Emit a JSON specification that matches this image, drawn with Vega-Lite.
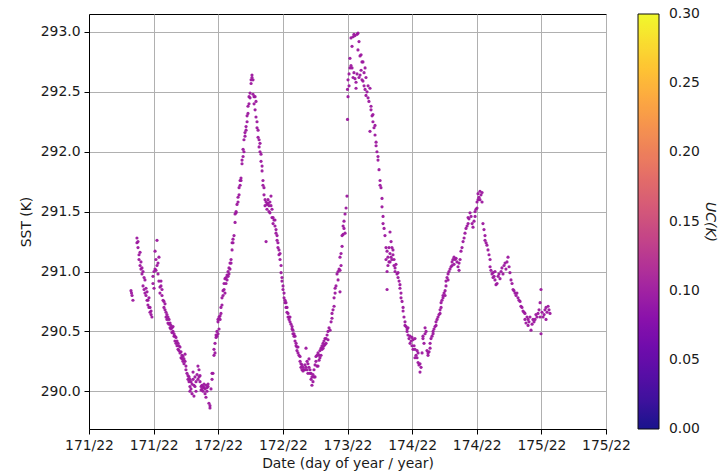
{
  "$schema": "https://vega.github.io/schema/vega-lite/v6.json",
  "width": 517,
  "height": 415,
  "autosize": {"type": "none"},
  "padding": {"left": 89, "top": 14, "right": 117, "bottom": 43},
  "background": "white",
  "config": {
    "font": "DejaVu Sans",
    "view": {"stroke": "black", "strokeWidth": 1},
    "axis": {
      "labelFont": "DejaVu Sans", "labelFontSize": 13.9, "labelColor": "#1a1a1a",
      "titleFont": "DejaVu Sans", "titleFontSize": 13.9, "titleFontWeight": "normal", "titleColor": "#1a1a1a",
      "domainColor": "black", "domainWidth": 1, "tickColor": "black", "tickSize": 5, "tickWidth": 1,
      "labelPadding": 4, "gridColor": "#b0b0b0", "gridWidth": 1, "gridOpacity": 1
    },
    "legend": {"padding": 0}
  },
  "data": {"values": [
    {"day":0.325,"sst":290.84,"uc":0.1},{"day":0.333,"sst":290.80,"uc":0.1},{"day":0.340,"sst":290.76,"uc":0.1},{"day":0.329,"sst":290.82,"uc":0.1},
    {"day":0.371,"sst":291.28,"uc":0.1},{"day":0.371,"sst":291.24,"uc":0.1},{"day":0.379,"sst":291.25,"uc":0.1},{"day":0.379,"sst":291.20,"uc":0.1},
    {"day":0.387,"sst":291.14,"uc":0.1},{"day":0.387,"sst":291.10,"uc":0.1},{"day":0.395,"sst":291.16,"uc":0.1},{"day":0.395,"sst":291.05,"uc":0.1},
    {"day":0.402,"sst":291.08,"uc":0.1},{"day":0.402,"sst":291.02,"uc":0.1},{"day":0.410,"sst":291.03,"uc":0.1},{"day":0.410,"sst":290.98,"uc":0.1},
    {"day":0.418,"sst":291.00,"uc":0.1},{"day":0.418,"sst":290.88,"uc":0.1},{"day":0.426,"sst":290.95,"uc":0.1},{"day":0.426,"sst":290.85,"uc":0.1},
    {"day":0.433,"sst":290.93,"uc":0.1},{"day":0.433,"sst":290.82,"uc":0.1},{"day":0.441,"sst":290.86,"uc":0.1},{"day":0.441,"sst":290.80,"uc":0.1},
    {"day":0.449,"sst":290.83,"uc":0.1},{"day":0.449,"sst":290.76,"uc":0.1},{"day":0.456,"sst":290.76,"uc":0.1},{"day":0.456,"sst":290.72,"uc":0.1},
    {"day":0.464,"sst":290.78,"uc":0.1},{"day":0.464,"sst":290.70,"uc":0.1},{"day":0.472,"sst":290.70,"uc":0.1},{"day":0.472,"sst":290.66,"uc":0.1},
    {"day":0.480,"sst":290.67,"uc":0.1},{"day":0.480,"sst":290.64,"uc":0.1},{"day":0.487,"sst":290.62,"uc":0.1},
    {"day":0.495,"sst":290.90,"uc":0.1},{"day":0.495,"sst":290.96,"uc":0.1},{"day":0.503,"sst":291.00,"uc":0.1},{"day":0.503,"sst":290.86,"uc":0.1},
    {"day":0.511,"sst":291.17,"uc":0.1},{"day":0.511,"sst":291.02,"uc":0.1},{"day":0.518,"sst":291.10,"uc":0.1},{"day":0.518,"sst":291.01,"uc":0.1},
    {"day":0.526,"sst":291.26,"uc":0.1},{"day":0.526,"sst":291.05,"uc":0.1},{"day":0.534,"sst":291.07,"uc":0.1},{"day":0.534,"sst":290.98,"uc":0.1},
    {"day":0.541,"sst":291.12,"uc":0.1},{"day":0.541,"sst":290.92,"uc":0.1},{"day":0.549,"sst":290.87,"uc":0.1},{"day":0.549,"sst":290.82,"uc":0.1},
    {"day":0.557,"sst":290.92,"uc":0.1},{"day":0.557,"sst":290.88,"uc":0.1},{"day":0.565,"sst":290.80,"uc":0.1},{"day":0.565,"sst":290.85,"uc":0.1},
    {"day":0.573,"sst":290.76,"uc":0.1},{"day":0.580,"sst":290.75,"uc":0.1},{"day":0.580,"sst":290.70,"uc":0.1},{"day":0.588,"sst":290.73,"uc":0.1},
    {"day":0.588,"sst":290.68,"uc":0.1},{"day":0.596,"sst":290.66,"uc":0.1},{"day":0.596,"sst":290.62,"uc":0.1},{"day":0.603,"sst":290.64,"uc":0.1},
    {"day":0.603,"sst":290.60,"uc":0.1},{"day":0.611,"sst":290.62,"uc":0.1},{"day":0.611,"sst":290.57,"uc":0.1},{"day":0.619,"sst":290.60,"uc":0.1},
    {"day":0.619,"sst":290.56,"uc":0.1},{"day":0.627,"sst":290.57,"uc":0.1},{"day":0.627,"sst":290.53,"uc":0.1},{"day":0.634,"sst":290.55,"uc":0.1},
    {"day":0.634,"sst":290.52,"uc":0.1},{"day":0.642,"sst":290.53,"uc":0.1},{"day":0.642,"sst":290.49,"uc":0.1},{"day":0.650,"sst":290.54,"uc":0.1},
    {"day":0.650,"sst":290.50,"uc":0.1},{"day":0.658,"sst":290.48,"uc":0.1},{"day":0.658,"sst":290.46,"uc":0.1},{"day":0.665,"sst":290.46,"uc":0.1},
    {"day":0.665,"sst":290.42,"uc":0.1},{"day":0.673,"sst":290.45,"uc":0.1},{"day":0.673,"sst":290.40,"uc":0.1},{"day":0.681,"sst":290.42,"uc":0.1},
    {"day":0.681,"sst":290.38,"uc":0.1},{"day":0.689,"sst":290.40,"uc":0.1},{"day":0.689,"sst":290.35,"uc":0.1},{"day":0.696,"sst":290.38,"uc":0.1},
    {"day":0.696,"sst":290.34,"uc":0.1},{"day":0.704,"sst":290.37,"uc":0.1},{"day":0.704,"sst":290.32,"uc":0.1},{"day":0.712,"sst":290.33,"uc":0.1},
    {"day":0.712,"sst":290.28,"uc":0.1},{"day":0.720,"sst":290.30,"uc":0.1},{"day":0.720,"sst":290.27,"uc":0.1},{"day":0.727,"sst":290.29,"uc":0.1},
    {"day":0.727,"sst":290.25,"uc":0.1},{"day":0.735,"sst":290.27,"uc":0.1},{"day":0.735,"sst":290.23,"uc":0.1},{"day":0.743,"sst":290.31,"uc":0.1},
    {"day":0.743,"sst":290.25,"uc":0.1},{"day":0.750,"sst":290.21,"uc":0.1},{"day":0.750,"sst":290.18,"uc":0.1},{"day":0.758,"sst":290.15,"uc":0.1},
    {"day":0.766,"sst":290.13,"uc":0.1},{"day":0.766,"sst":290.10,"uc":0.1},{"day":0.774,"sst":290.08,"uc":0.1},{"day":0.774,"sst":290.12,"uc":0.1},
    {"day":0.781,"sst":290.04,"uc":0.1},{"day":0.781,"sst":290.00,"uc":0.1},{"day":0.781,"sst":290.10,"uc":0.1},{"day":0.789,"sst":290.02,"uc":0.1},
    {"day":0.789,"sst":290.08,"uc":0.1},{"day":0.797,"sst":289.98,"uc":0.1},{"day":0.797,"sst":290.06,"uc":0.1},{"day":0.805,"sst":290.10,"uc":0.1},
    {"day":0.805,"sst":290.16,"uc":0.1},{"day":0.812,"sst":290.05,"uc":0.1},{"day":0.812,"sst":289.96,"uc":0.1},{"day":0.820,"sst":290.12,"uc":0.1},
    {"day":0.820,"sst":290.04,"uc":0.1},{"day":0.828,"sst":290.00,"uc":0.1},{"day":0.828,"sst":290.08,"uc":0.1},{"day":0.836,"sst":290.14,"uc":0.1},
    {"day":0.843,"sst":290.21,"uc":0.1},{"day":0.843,"sst":290.10,"uc":0.1},{"day":0.851,"sst":290.18,"uc":0.1},{"day":0.851,"sst":290.12,"uc":0.1},
    {"day":0.859,"sst":290.08,"uc":0.1},{"day":0.859,"sst":290.13,"uc":0.1},{"day":0.867,"sst":290.04,"uc":0.1},{"day":0.867,"sst":290.01,"uc":0.1},
    {"day":0.874,"sst":290.05,"uc":0.1},{"day":0.874,"sst":290.02,"uc":0.1},{"day":0.882,"sst":290.04,"uc":0.1},{"day":0.882,"sst":290.00,"uc":0.1},
    {"day":0.890,"sst":290.03,"uc":0.1},{"day":0.890,"sst":290.06,"uc":0.1},{"day":0.898,"sst":289.98,"uc":0.1},{"day":0.898,"sst":290.02,"uc":0.1},
    {"day":0.905,"sst":289.95,"uc":0.1},{"day":0.905,"sst":290.05,"uc":0.1},{"day":0.913,"sst":290.03,"uc":0.1},{"day":0.913,"sst":290.00,"uc":0.1},
    {"day":0.921,"sst":290.04,"uc":0.1},{"day":0.921,"sst":290.06,"uc":0.1},{"day":0.928,"sst":289.90,"uc":0.1},{"day":0.936,"sst":289.86,"uc":0.1},
    {"day":0.936,"sst":289.88,"uc":0.1},{"day":0.944,"sst":290.02,"uc":0.1},{"day":0.952,"sst":290.10,"uc":0.1},{"day":0.952,"sst":290.15,"uc":0.1},
    {"day":0.959,"sst":290.15,"uc":0.1},{"day":0.967,"sst":290.30,"uc":0.1},{"day":0.967,"sst":290.35,"uc":0.1},{"day":0.975,"sst":290.32,"uc":0.1},
    {"day":0.975,"sst":290.40,"uc":0.1},{"day":0.983,"sst":290.45,"uc":0.1},{"day":0.983,"sst":290.47,"uc":0.1},{"day":0.990,"sst":290.46,"uc":0.1},
    {"day":0.990,"sst":290.50,"uc":0.1},{"day":0.998,"sst":290.48,"uc":0.1},{"day":0.998,"sst":290.58,"uc":0.1},{"day":0.998,"sst":290.60,"uc":0.1},
    {"day":1.006,"sst":290.52,"uc":0.1},{"day":1.006,"sst":290.62,"uc":0.1},{"day":1.014,"sst":290.60,"uc":0.1},{"day":1.014,"sst":290.63,"uc":0.1},
    {"day":1.021,"sst":290.65,"uc":0.1},{"day":1.021,"sst":290.70,"uc":0.1},{"day":1.029,"sst":290.72,"uc":0.1},{"day":1.029,"sst":290.78,"uc":0.1},
    {"day":1.037,"sst":290.80,"uc":0.1},{"day":1.037,"sst":290.84,"uc":0.1},{"day":1.045,"sst":290.85,"uc":0.1},{"day":1.045,"sst":290.90,"uc":0.1},
    {"day":1.052,"sst":290.82,"uc":0.1},{"day":1.052,"sst":290.94,"uc":0.1},{"day":1.060,"sst":290.90,"uc":0.1},{"day":1.060,"sst":290.95,"uc":0.1},
    {"day":1.068,"sst":290.93,"uc":0.1},{"day":1.068,"sst":290.97,"uc":0.1},{"day":1.076,"sst":290.96,"uc":0.1},{"day":1.076,"sst":291.00,"uc":0.1},
    {"day":1.083,"sst":291.03,"uc":0.1},{"day":1.083,"sst":290.98,"uc":0.1},{"day":1.091,"sst":291.02,"uc":0.1},{"day":1.091,"sst":291.07,"uc":0.1},
    {"day":1.099,"sst":291.07,"uc":0.1},{"day":1.099,"sst":291.10,"uc":0.1},{"day":1.107,"sst":291.18,"uc":0.1},{"day":1.107,"sst":291.24,"uc":0.1},
    {"day":1.114,"sst":291.24,"uc":0.1},{"day":1.114,"sst":291.27,"uc":0.1},{"day":1.122,"sst":291.30,"uc":0.1},{"day":1.130,"sst":291.41,"uc":0.1},
    {"day":1.130,"sst":291.48,"uc":0.1},{"day":1.138,"sst":291.49,"uc":0.1},{"day":1.138,"sst":291.50,"uc":0.1},{"day":1.145,"sst":291.56,"uc":0.1},
    {"day":1.153,"sst":291.62,"uc":0.1},{"day":1.153,"sst":291.58,"uc":0.1},{"day":1.161,"sst":291.64,"uc":0.1},{"day":1.161,"sst":291.70,"uc":0.1},
    {"day":1.169,"sst":291.72,"uc":0.1},{"day":1.169,"sst":291.76,"uc":0.1},{"day":1.176,"sst":291.76,"uc":0.1},{"day":1.176,"sst":291.78,"uc":0.1},
    {"day":1.184,"sst":291.93,"uc":0.1},{"day":1.184,"sst":291.90,"uc":0.1},{"day":1.192,"sst":291.96,"uc":0.1},{"day":1.192,"sst":292.02,"uc":0.1},
    {"day":1.199,"sst":292.10,"uc":0.1},{"day":1.199,"sst":292.00,"uc":0.1},{"day":1.207,"sst":292.13,"uc":0.1},{"day":1.207,"sst":292.16,"uc":0.1},
    {"day":1.215,"sst":292.21,"uc":0.1},{"day":1.215,"sst":292.18,"uc":0.1},{"day":1.223,"sst":292.30,"uc":0.1},{"day":1.223,"sst":292.25,"uc":0.1},
    {"day":1.230,"sst":292.38,"uc":0.1},{"day":1.230,"sst":292.32,"uc":0.1},{"day":1.238,"sst":292.40,"uc":0.1},{"day":1.238,"sst":292.46,"uc":0.1},
    {"day":1.246,"sst":292.49,"uc":0.1},{"day":1.246,"sst":292.45,"uc":0.1},{"day":1.254,"sst":292.57,"uc":0.1},{"day":1.254,"sst":292.60,"uc":0.1},
    {"day":1.261,"sst":292.64,"uc":0.1},{"day":1.261,"sst":292.62,"uc":0.1},{"day":1.269,"sst":292.60,"uc":0.1},{"day":1.269,"sst":292.48,"uc":0.1},
    {"day":1.277,"sst":292.46,"uc":0.1},{"day":1.277,"sst":292.40,"uc":0.1},{"day":1.285,"sst":292.46,"uc":0.1},{"day":1.285,"sst":292.35,"uc":0.1},
    {"day":1.292,"sst":292.29,"uc":0.1},{"day":1.292,"sst":292.42,"uc":0.1},{"day":1.300,"sst":292.20,"uc":0.1},{"day":1.300,"sst":292.25,"uc":0.1},
    {"day":1.308,"sst":292.18,"uc":0.1},{"day":1.308,"sst":292.12,"uc":0.1},{"day":1.316,"sst":292.10,"uc":0.1},{"day":1.316,"sst":292.04,"uc":0.1},
    {"day":1.323,"sst":292.07,"uc":0.1},{"day":1.323,"sst":292.00,"uc":0.1},{"day":1.331,"sst":291.98,"uc":0.1},{"day":1.331,"sst":291.92,"uc":0.1},
    {"day":1.339,"sst":291.88,"uc":0.1},{"day":1.339,"sst":291.84,"uc":0.1},{"day":1.346,"sst":291.76,"uc":0.1},{"day":1.346,"sst":291.72,"uc":0.1},
    {"day":1.354,"sst":291.70,"uc":0.1},{"day":1.354,"sst":291.64,"uc":0.1},{"day":1.362,"sst":291.60,"uc":0.1},{"day":1.362,"sst":291.55,"uc":0.1},
    {"day":1.370,"sst":291.58,"uc":0.1},{"day":1.370,"sst":291.25,"uc":0.1},{"day":1.377,"sst":291.52,"uc":0.1},{"day":1.377,"sst":291.56,"uc":0.1},
    {"day":1.385,"sst":291.57,"uc":0.1},{"day":1.385,"sst":291.60,"uc":0.1},{"day":1.393,"sst":291.55,"uc":0.1},{"day":1.393,"sst":291.50,"uc":0.1},
    {"day":1.400,"sst":291.49,"uc":0.1},{"day":1.400,"sst":291.58,"uc":0.1},{"day":1.408,"sst":291.63,"uc":0.1},{"day":1.408,"sst":291.55,"uc":0.1},
    {"day":1.416,"sst":291.52,"uc":0.1},{"day":1.416,"sst":291.45,"uc":0.1},{"day":1.424,"sst":291.45,"uc":0.1},{"day":1.424,"sst":291.40,"uc":0.1},
    {"day":1.431,"sst":291.43,"uc":0.1},{"day":1.439,"sst":291.43,"uc":0.1},{"day":1.439,"sst":291.38,"uc":0.1},{"day":1.447,"sst":291.32,"uc":0.1},
    {"day":1.447,"sst":291.35,"uc":0.1},{"day":1.455,"sst":291.30,"uc":0.1},{"day":1.455,"sst":291.26,"uc":0.1},{"day":1.462,"sst":291.24,"uc":0.1},
    {"day":1.462,"sst":291.20,"uc":0.1},{"day":1.470,"sst":291.18,"uc":0.1},{"day":1.470,"sst":291.14,"uc":0.1},{"day":1.478,"sst":291.15,"uc":0.1},
    {"day":1.478,"sst":291.10,"uc":0.1},{"day":1.486,"sst":291.05,"uc":0.1},{"day":1.486,"sst":290.99,"uc":0.1},{"day":1.493,"sst":290.95,"uc":0.1},
    {"day":1.493,"sst":290.92,"uc":0.1},{"day":1.501,"sst":290.85,"uc":0.1},{"day":1.501,"sst":290.88,"uc":0.1},{"day":1.509,"sst":290.82,"uc":0.1},
    {"day":1.509,"sst":290.78,"uc":0.1},{"day":1.517,"sst":290.76,"uc":0.1},{"day":1.517,"sst":290.74,"uc":0.1},{"day":1.524,"sst":290.74,"uc":0.1},
    {"day":1.524,"sst":290.70,"uc":0.1},{"day":1.532,"sst":290.70,"uc":0.1},{"day":1.532,"sst":290.66,"uc":0.1},{"day":1.540,"sst":290.65,"uc":0.1},
    {"day":1.540,"sst":290.62,"uc":0.1},{"day":1.548,"sst":290.62,"uc":0.1},{"day":1.548,"sst":290.60,"uc":0.1},{"day":1.555,"sst":290.62,"uc":0.1},
    {"day":1.555,"sst":290.58,"uc":0.1},{"day":1.563,"sst":290.56,"uc":0.1},{"day":1.571,"sst":290.54,"uc":0.1},{"day":1.571,"sst":290.52,"uc":0.1},
    {"day":1.578,"sst":290.51,"uc":0.1},{"day":1.578,"sst":290.48,"uc":0.1},{"day":1.586,"sst":290.48,"uc":0.1},{"day":1.586,"sst":290.46,"uc":0.1},
    {"day":1.594,"sst":290.46,"uc":0.1},{"day":1.594,"sst":290.42,"uc":0.1},{"day":1.602,"sst":290.40,"uc":0.1},{"day":1.602,"sst":290.38,"uc":0.1},
    {"day":1.609,"sst":290.37,"uc":0.1},{"day":1.609,"sst":290.34,"uc":0.1},{"day":1.617,"sst":290.37,"uc":0.1},{"day":1.617,"sst":290.32,"uc":0.1},
    {"day":1.625,"sst":290.30,"uc":0.1},{"day":1.633,"sst":290.29,"uc":0.1},{"day":1.633,"sst":290.25,"uc":0.1},{"day":1.640,"sst":290.23,"uc":0.1},
    {"day":1.640,"sst":290.20,"uc":0.1},{"day":1.648,"sst":290.22,"uc":0.1},{"day":1.648,"sst":290.18,"uc":0.1},{"day":1.656,"sst":290.20,"uc":0.1},
    {"day":1.656,"sst":290.17,"uc":0.1},{"day":1.663,"sst":290.18,"uc":0.1},{"day":1.671,"sst":290.18,"uc":0.1},{"day":1.671,"sst":290.22,"uc":0.1},
    {"day":1.679,"sst":290.36,"uc":0.1},{"day":1.679,"sst":290.20,"uc":0.1},{"day":1.687,"sst":290.25,"uc":0.1},{"day":1.687,"sst":290.18,"uc":0.1},
    {"day":1.694,"sst":290.23,"uc":0.1},{"day":1.694,"sst":290.15,"uc":0.1},{"day":1.702,"sst":290.27,"uc":0.1},{"day":1.702,"sst":290.20,"uc":0.1},
    {"day":1.710,"sst":290.15,"uc":0.1},{"day":1.710,"sst":290.18,"uc":0.1},{"day":1.718,"sst":290.15,"uc":0.1},{"day":1.718,"sst":290.10,"uc":0.1},
    {"day":1.725,"sst":290.05,"uc":0.1},{"day":1.725,"sst":290.12,"uc":0.1},{"day":1.733,"sst":290.14,"uc":0.1},{"day":1.733,"sst":290.08,"uc":0.1},
    {"day":1.741,"sst":290.12,"uc":0.1},{"day":1.741,"sst":290.18,"uc":0.1},{"day":1.749,"sst":290.12,"uc":0.1},{"day":1.749,"sst":290.22,"uc":0.1},
    {"day":1.756,"sst":290.29,"uc":0.1},{"day":1.756,"sst":290.25,"uc":0.1},{"day":1.764,"sst":290.21,"uc":0.1},{"day":1.764,"sst":290.30,"uc":0.1},
    {"day":1.772,"sst":290.21,"uc":0.1},{"day":1.772,"sst":290.32,"uc":0.1},{"day":1.780,"sst":290.26,"uc":0.1},{"day":1.780,"sst":290.30,"uc":0.1},
    {"day":1.787,"sst":290.34,"uc":0.1},{"day":1.787,"sst":290.28,"uc":0.1},{"day":1.795,"sst":290.30,"uc":0.1},{"day":1.795,"sst":290.36,"uc":0.1},
    {"day":1.803,"sst":290.35,"uc":0.1},{"day":1.803,"sst":290.38,"uc":0.1},{"day":1.811,"sst":290.40,"uc":0.1},{"day":1.811,"sst":290.36,"uc":0.1},
    {"day":1.818,"sst":290.42,"uc":0.1},{"day":1.818,"sst":290.38,"uc":0.1},{"day":1.826,"sst":290.39,"uc":0.1},{"day":1.826,"sst":290.44,"uc":0.1},
    {"day":1.834,"sst":290.44,"uc":0.1},{"day":1.834,"sst":290.40,"uc":0.1},{"day":1.842,"sst":290.47,"uc":0.1},{"day":1.849,"sst":290.43,"uc":0.1},
    {"day":1.849,"sst":290.50,"uc":0.1},{"day":1.857,"sst":290.53,"uc":0.1},{"day":1.865,"sst":290.51,"uc":0.1},{"day":1.873,"sst":290.58,"uc":0.1},
    {"day":1.880,"sst":290.65,"uc":0.1},{"day":1.880,"sst":290.61,"uc":0.1},{"day":1.888,"sst":290.68,"uc":0.1},{"day":1.896,"sst":290.71,"uc":0.1},
    {"day":1.896,"sst":290.78,"uc":0.1},{"day":1.904,"sst":290.82,"uc":0.1},{"day":1.904,"sst":290.86,"uc":0.1},{"day":1.911,"sst":290.88,"uc":0.1},
    {"day":1.919,"sst":290.98,"uc":0.1},{"day":1.927,"sst":290.93,"uc":0.1},{"day":1.927,"sst":291.00,"uc":0.1},{"day":1.935,"sst":291.02,"uc":0.1},
    {"day":1.942,"sst":291.01,"uc":0.1},{"day":1.942,"sst":291.12,"uc":0.1},{"day":1.942,"sst":290.83,"uc":0.1},{"day":1.950,"sst":291.05,"uc":0.1},
    {"day":1.950,"sst":291.15,"uc":0.1},{"day":1.958,"sst":291.21,"uc":0.1},{"day":1.958,"sst":291.30,"uc":0.1},{"day":1.966,"sst":291.31,"uc":0.1},
    {"day":1.966,"sst":291.38,"uc":0.1},{"day":1.973,"sst":291.42,"uc":0.1},{"day":1.973,"sst":291.36,"uc":0.1},{"day":1.981,"sst":291.32,"uc":0.1},
    {"day":1.981,"sst":291.48,"uc":0.1},{"day":1.989,"sst":291.53,"uc":0.1},{"day":1.996,"sst":291.63,"uc":0.1},
    {"day":2.000,"sst":292.27,"uc":0.1},{"day":2.000,"sst":292.52,"uc":0.1},{"day":2.004,"sst":292.46,"uc":0.1},{"day":2.004,"sst":292.60,"uc":0.1},
    {"day":2.012,"sst":292.65,"uc":0.1},{"day":2.012,"sst":292.55,"uc":0.1},{"day":2.019,"sst":292.78,"uc":0.1},{"day":2.019,"sst":292.70,"uc":0.1},
    {"day":2.027,"sst":292.95,"uc":0.1},{"day":2.027,"sst":292.72,"uc":0.1},{"day":2.035,"sst":292.70,"uc":0.1},{"day":2.035,"sst":292.88,"uc":0.1},
    {"day":2.043,"sst":292.96,"uc":0.1},{"day":2.043,"sst":292.62,"uc":0.1},{"day":2.050,"sst":292.98,"uc":0.1},{"day":2.050,"sst":292.66,"uc":0.1},
    {"day":2.058,"sst":292.97,"uc":0.1},{"day":2.058,"sst":292.61,"uc":0.1},{"day":2.066,"sst":292.53,"uc":0.1},{"day":2.066,"sst":292.58,"uc":0.1},
    {"day":2.074,"sst":292.98,"uc":0.1},{"day":2.074,"sst":292.65,"uc":0.1},{"day":2.081,"sst":292.99,"uc":0.1},{"day":2.081,"sst":292.85,"uc":0.1},
    {"day":2.089,"sst":292.92,"uc":0.1},{"day":2.089,"sst":292.62,"uc":0.1},{"day":2.097,"sst":292.64,"uc":0.1},{"day":2.097,"sst":292.80,"uc":0.1},
    {"day":2.105,"sst":292.81,"uc":0.1},{"day":2.105,"sst":292.68,"uc":0.1},{"day":2.112,"sst":292.75,"uc":0.1},{"day":2.112,"sst":292.60,"uc":0.1},
    {"day":2.120,"sst":292.59,"uc":0.1},{"day":2.120,"sst":292.75,"uc":0.1},{"day":2.128,"sst":292.66,"uc":0.1},{"day":2.128,"sst":292.55,"uc":0.1},
    {"day":2.136,"sst":292.70,"uc":0.1},{"day":2.136,"sst":292.52,"uc":0.1},{"day":2.143,"sst":292.62,"uc":0.1},{"day":2.143,"sst":292.47,"uc":0.1},
    {"day":2.151,"sst":292.50,"uc":0.1},{"day":2.159,"sst":292.45,"uc":0.1},{"day":2.159,"sst":292.55,"uc":0.1},{"day":2.166,"sst":292.42,"uc":0.1},
    {"day":2.174,"sst":292.53,"uc":0.1},{"day":2.174,"sst":292.17,"uc":0.1},{"day":2.182,"sst":292.38,"uc":0.1},{"day":2.182,"sst":292.35,"uc":0.1},
    {"day":2.190,"sst":292.30,"uc":0.1},{"day":2.197,"sst":292.31,"uc":0.1},{"day":2.197,"sst":292.25,"uc":0.1},{"day":2.205,"sst":292.20,"uc":0.1},
    {"day":2.213,"sst":292.22,"uc":0.1},{"day":2.213,"sst":292.14,"uc":0.1},{"day":2.221,"sst":292.08,"uc":0.1},{"day":2.221,"sst":292.05,"uc":0.1},
    {"day":2.228,"sst":292.00,"uc":0.1},{"day":2.236,"sst":291.93,"uc":0.1},{"day":2.236,"sst":291.96,"uc":0.1},{"day":2.244,"sst":291.85,"uc":0.1},
    {"day":2.252,"sst":291.76,"uc":0.1},{"day":2.252,"sst":291.72,"uc":0.1},{"day":2.259,"sst":291.70,"uc":0.1},{"day":2.267,"sst":291.61,"uc":0.1},
    {"day":2.267,"sst":291.54,"uc":0.1},{"day":2.275,"sst":291.46,"uc":0.1},{"day":2.275,"sst":291.40,"uc":0.1},{"day":2.283,"sst":291.36,"uc":0.1},
    {"day":2.290,"sst":291.30,"uc":0.1},{"day":2.298,"sst":291.20,"uc":0.1},{"day":2.298,"sst":291.10,"uc":0.1},{"day":2.306,"sst":291.17,"uc":0.1},
    {"day":2.306,"sst":291.00,"uc":0.1},{"day":2.306,"sst":290.85,"uc":0.1},{"day":2.313,"sst":291.12,"uc":0.1},{"day":2.313,"sst":291.05,"uc":0.1},
    {"day":2.321,"sst":291.20,"uc":0.1},{"day":2.321,"sst":291.08,"uc":0.1},{"day":2.329,"sst":291.33,"uc":0.1},{"day":2.329,"sst":291.08,"uc":0.1},
    {"day":2.329,"sst":291.15,"uc":0.1},{"day":2.337,"sst":291.25,"uc":0.1},{"day":2.337,"sst":291.12,"uc":0.1},{"day":2.344,"sst":291.20,"uc":0.1},
    {"day":2.344,"sst":291.10,"uc":0.1},{"day":2.352,"sst":291.14,"uc":0.1},{"day":2.352,"sst":291.18,"uc":0.1},{"day":2.360,"sst":291.10,"uc":0.1},
    {"day":2.360,"sst":291.05,"uc":0.1},{"day":2.368,"sst":291.03,"uc":0.1},{"day":2.368,"sst":291.00,"uc":0.1},{"day":2.375,"sst":291.06,"uc":0.1},
    {"day":2.383,"sst":290.98,"uc":0.1},{"day":2.391,"sst":290.99,"uc":0.1},{"day":2.391,"sst":290.95,"uc":0.1},{"day":2.399,"sst":290.92,"uc":0.1},
    {"day":2.406,"sst":290.89,"uc":0.1},{"day":2.406,"sst":290.86,"uc":0.1},{"day":2.414,"sst":290.82,"uc":0.1},{"day":2.414,"sst":290.78,"uc":0.1},
    {"day":2.422,"sst":290.75,"uc":0.1},{"day":2.430,"sst":290.67,"uc":0.1},{"day":2.430,"sst":290.70,"uc":0.1},{"day":2.437,"sst":290.62,"uc":0.1},
    {"day":2.445,"sst":290.58,"uc":0.1},{"day":2.445,"sst":290.55,"uc":0.1},{"day":2.453,"sst":290.54,"uc":0.1},{"day":2.461,"sst":290.50,"uc":0.1},
    {"day":2.461,"sst":290.52,"uc":0.1},{"day":2.468,"sst":290.53,"uc":0.1},{"day":2.468,"sst":290.47,"uc":0.1},{"day":2.476,"sst":290.44,"uc":0.1},
    {"day":2.484,"sst":290.46,"uc":0.1},{"day":2.484,"sst":290.40,"uc":0.1},{"day":2.492,"sst":290.42,"uc":0.1},{"day":2.499,"sst":290.38,"uc":0.1},
    {"day":2.499,"sst":290.45,"uc":0.1},{"day":2.507,"sst":290.43,"uc":0.1},{"day":2.507,"sst":290.35,"uc":0.1},{"day":2.515,"sst":290.38,"uc":0.1},
    {"day":2.522,"sst":290.35,"uc":0.1},{"day":2.522,"sst":290.44,"uc":0.1},{"day":2.522,"sst":290.28,"uc":0.1},{"day":2.530,"sst":290.30,"uc":0.1},
    {"day":2.538,"sst":290.28,"uc":0.1},{"day":2.538,"sst":290.34,"uc":0.1},{"day":2.546,"sst":290.32,"uc":0.1},{"day":2.546,"sst":290.24,"uc":0.1},
    {"day":2.553,"sst":290.22,"uc":0.1},{"day":2.561,"sst":290.23,"uc":0.1},{"day":2.561,"sst":290.16,"uc":0.1},{"day":2.569,"sst":290.20,"uc":0.1},
    {"day":2.577,"sst":290.32,"uc":0.1},{"day":2.584,"sst":290.44,"uc":0.1},{"day":2.584,"sst":290.46,"uc":0.1},{"day":2.592,"sst":290.40,"uc":0.1},
    {"day":2.600,"sst":290.53,"uc":0.1},{"day":2.600,"sst":290.48,"uc":0.1},{"day":2.608,"sst":290.50,"uc":0.1},{"day":2.615,"sst":290.34,"uc":0.1},
    {"day":2.623,"sst":290.32,"uc":0.1},{"day":2.623,"sst":290.30,"uc":0.1},{"day":2.631,"sst":290.33,"uc":0.1},{"day":2.639,"sst":290.40,"uc":0.1},
    {"day":2.639,"sst":290.36,"uc":0.1},{"day":2.646,"sst":290.44,"uc":0.1},{"day":2.654,"sst":290.46,"uc":0.1},{"day":2.662,"sst":290.48,"uc":0.1},
    {"day":2.662,"sst":290.50,"uc":0.1},{"day":2.669,"sst":290.52,"uc":0.1},{"day":2.677,"sst":290.54,"uc":0.1},{"day":2.685,"sst":290.55,"uc":0.1},
    {"day":2.685,"sst":290.58,"uc":0.1},{"day":2.693,"sst":290.60,"uc":0.1},{"day":2.700,"sst":290.62,"uc":0.1},{"day":2.708,"sst":290.64,"uc":0.1},
    {"day":2.716,"sst":290.65,"uc":0.1},{"day":2.716,"sst":290.68,"uc":0.1},{"day":2.724,"sst":290.70,"uc":0.1},{"day":2.724,"sst":290.74,"uc":0.1},
    {"day":2.731,"sst":290.76,"uc":0.1},{"day":2.739,"sst":290.78,"uc":0.1},{"day":2.739,"sst":290.80,"uc":0.1},{"day":2.747,"sst":290.82,"uc":0.1},
    {"day":2.755,"sst":290.84,"uc":0.1},{"day":2.755,"sst":290.80,"uc":0.1},{"day":2.762,"sst":290.92,"uc":0.1},{"day":2.762,"sst":290.88,"uc":0.1},
    {"day":2.770,"sst":290.95,"uc":0.1},{"day":2.778,"sst":290.93,"uc":0.1},{"day":2.778,"sst":290.98,"uc":0.1},{"day":2.785,"sst":291.00,"uc":0.1},
    {"day":2.793,"sst":291.02,"uc":0.1},{"day":2.801,"sst":291.04,"uc":0.1},{"day":2.809,"sst":291.08,"uc":0.1},{"day":2.809,"sst":291.05,"uc":0.1},
    {"day":2.816,"sst":291.10,"uc":0.1},{"day":2.824,"sst":291.12,"uc":0.1},{"day":2.824,"sst":291.06,"uc":0.1},{"day":2.832,"sst":291.10,"uc":0.1},
    {"day":2.840,"sst":291.11,"uc":0.1},{"day":2.847,"sst":291.08,"uc":0.1},{"day":2.855,"sst":291.04,"uc":0.1},{"day":2.863,"sst":291.01,"uc":0.1},
    {"day":2.863,"sst":291.07,"uc":0.1},{"day":2.871,"sst":291.10,"uc":0.1},{"day":2.878,"sst":291.17,"uc":0.1},{"day":2.886,"sst":291.20,"uc":0.1},
    {"day":2.894,"sst":291.25,"uc":0.1},{"day":2.902,"sst":291.28,"uc":0.1},{"day":2.909,"sst":291.32,"uc":0.1},{"day":2.917,"sst":291.36,"uc":0.1},
    {"day":2.925,"sst":291.38,"uc":0.1},{"day":2.933,"sst":291.40,"uc":0.1},{"day":2.933,"sst":291.45,"uc":0.1},{"day":2.940,"sst":291.44,"uc":0.1},
    {"day":2.948,"sst":291.49,"uc":0.1},{"day":2.956,"sst":291.46,"uc":0.1},{"day":2.964,"sst":291.40,"uc":0.1},{"day":2.971,"sst":291.37,"uc":0.1},
    {"day":2.979,"sst":291.42,"uc":0.1},{"day":2.987,"sst":291.46,"uc":0.1},{"day":2.987,"sst":291.50,"uc":0.1},{"day":2.994,"sst":291.52,"uc":0.1},
    {"day":3.002,"sst":291.53,"uc":0.1},{"day":3.002,"sst":291.58,"uc":0.1},{"day":3.010,"sst":291.60,"uc":0.1},{"day":3.010,"sst":291.65,"uc":0.1},
    {"day":3.017,"sst":291.62,"uc":0.1},{"day":3.025,"sst":291.67,"uc":0.1},{"day":3.025,"sst":291.60,"uc":0.1},{"day":3.033,"sst":291.64,"uc":0.1},
    {"day":3.041,"sst":291.58,"uc":0.1},{"day":3.041,"sst":291.66,"uc":0.1},{"day":3.048,"sst":291.40,"uc":0.1},{"day":3.056,"sst":291.35,"uc":0.1},
    {"day":3.064,"sst":291.30,"uc":0.1},{"day":3.064,"sst":291.26,"uc":0.1},{"day":3.072,"sst":291.24,"uc":0.1},{"day":3.079,"sst":291.22,"uc":0.1},
    {"day":3.087,"sst":291.18,"uc":0.1},{"day":3.095,"sst":291.14,"uc":0.1},{"day":3.103,"sst":291.10,"uc":0.1},{"day":3.103,"sst":291.04,"uc":0.1},
    {"day":3.110,"sst":291.01,"uc":0.1},{"day":3.118,"sst":290.98,"uc":0.1},{"day":3.126,"sst":290.99,"uc":0.1},{"day":3.126,"sst":290.95,"uc":0.1},
    {"day":3.134,"sst":290.96,"uc":0.1},{"day":3.141,"sst":290.93,"uc":0.1},{"day":3.141,"sst":291.00,"uc":0.1},{"day":3.149,"sst":290.89,"uc":0.1},
    {"day":3.157,"sst":290.90,"uc":0.1},{"day":3.165,"sst":290.96,"uc":0.1},{"day":3.172,"sst":290.98,"uc":0.1},{"day":3.180,"sst":290.94,"uc":0.1},
    {"day":3.188,"sst":291.00,"uc":0.1},{"day":3.195,"sst":291.03,"uc":0.1},{"day":3.203,"sst":290.98,"uc":0.1},{"day":3.211,"sst":291.05,"uc":0.1},
    {"day":3.219,"sst":291.07,"uc":0.1},{"day":3.226,"sst":291.02,"uc":0.1},{"day":3.234,"sst":291.08,"uc":0.1},{"day":3.242,"sst":291.12,"uc":0.1},
    {"day":3.250,"sst":291.04,"uc":0.1},{"day":3.257,"sst":290.99,"uc":0.1},{"day":3.265,"sst":290.93,"uc":0.1},{"day":3.273,"sst":290.90,"uc":0.1},
    {"day":3.281,"sst":290.85,"uc":0.1},{"day":3.288,"sst":290.84,"uc":0.1},{"day":3.296,"sst":290.82,"uc":0.1},{"day":3.304,"sst":290.80,"uc":0.1},
    {"day":3.311,"sst":290.82,"uc":0.1},{"day":3.319,"sst":290.78,"uc":0.1},{"day":3.327,"sst":290.76,"uc":0.1},{"day":3.335,"sst":290.75,"uc":0.1},
    {"day":3.342,"sst":290.71,"uc":0.1},{"day":3.350,"sst":290.70,"uc":0.1},{"day":3.358,"sst":290.67,"uc":0.1},{"day":3.366,"sst":290.66,"uc":0.1},
    {"day":3.373,"sst":290.65,"uc":0.1},{"day":3.373,"sst":290.60,"uc":0.1},{"day":3.381,"sst":290.57,"uc":0.1},{"day":3.389,"sst":290.62,"uc":0.1},
    {"day":3.397,"sst":290.60,"uc":0.1},{"day":3.397,"sst":290.55,"uc":0.1},{"day":3.404,"sst":290.58,"uc":0.1},{"day":3.412,"sst":290.62,"uc":0.1},
    {"day":3.420,"sst":290.51,"uc":0.1},{"day":3.428,"sst":290.56,"uc":0.1},{"day":3.435,"sst":290.60,"uc":0.1},{"day":3.443,"sst":290.58,"uc":0.1},
    {"day":3.451,"sst":290.60,"uc":0.1},{"day":3.458,"sst":290.64,"uc":0.1},{"day":3.466,"sst":290.62,"uc":0.1},{"day":3.474,"sst":290.65,"uc":0.1},
    {"day":3.482,"sst":290.68,"uc":0.1},{"day":3.490,"sst":290.74,"uc":0.1},{"day":3.490,"sst":290.62,"uc":0.1},{"day":3.497,"sst":290.85,"uc":0.1},
    {"day":3.497,"sst":290.48,"uc":0.1},{"day":3.505,"sst":290.66,"uc":0.1},{"day":3.513,"sst":290.62,"uc":0.1},{"day":3.521,"sst":290.64,"uc":0.1},
    {"day":3.528,"sst":290.68,"uc":0.1},{"day":3.536,"sst":290.60,"uc":0.1},{"day":3.536,"sst":290.70,"uc":0.1},{"day":3.544,"sst":290.66,"uc":0.1},
    {"day":3.552,"sst":290.71,"uc":0.1},{"day":3.559,"sst":290.68,"uc":0.1},{"day":3.567,"sst":290.65,"uc":0.1}
  ]},
  "mark": {"type": "circle", "size": 10, "opacity": 0.95},
  "encoding": {
    "x": {
      "field": "day", "type": "quantitative",
      "scale": {"domain": [0, 4], "nice": false, "zero": false},
      "axis": {
        "values": [0, 0.5, 1, 1.5, 2, 2.5, 3, 3.5, 4],
        "labelExpr": "['171/22','171/22','172/22','172/22','173/22','174/22','174/22','175/22','175/22'][round(datum.value*2)]",
        "labelFlush": false, "labelOverlap": false,
        "title": "Date (day of year / year)", "titlePadding": 5
      }
    },
    "y": {
      "field": "sst", "type": "quantitative",
      "scale": {"domain": [289.685, 293.15], "nice": false, "zero": false},
      "axis": {
        "values": [290.0, 290.5, 291.0, 291.5, 292.0, 292.5, 293.0],
        "format": ".1f", "labelFlush": false, "labelOverlap": false,
        "title": "SST (K)", "titlePadding": 7
      }
    },
    "color": {
      "field": "uc", "type": "quantitative",
      "scale": {"scheme": "plasma", "domain": [0, 0.3]},
      "legend": {
        "type": "gradient", "direction": "vertical", "orient": "right", "offset": 32,
        "gradientLength": 415, "gradientThickness": 21,
        "gradientStrokeColor": "black", "gradientStrokeWidth": 1,
        "values": [0.00001, 0.05, 0.1, 0.15, 0.2, 0.25, 0.29999], "format": ".2f",
        "labelFont": "DejaVu Sans", "labelFontSize": 13.9, "labelColor": "#1a1a1a", "labelOffset": 10,
        "labelOverlap": false, "labelBaseline": "middle",
        "title": "UC(K)", "titleOrient": "right", "titleAngle": 270, "titleFont": "DejaVu Sans",
        "titleFontSize": 13.9, "titleFontWeight": "normal", "titleFontStyle": "italic", "titleColor": "#1a1a1a",
        "titleAnchor": "middle", "titleBaseline": "middle", "titleAlign": "center", "titlePadding": 10
      }
    }
  }
}
